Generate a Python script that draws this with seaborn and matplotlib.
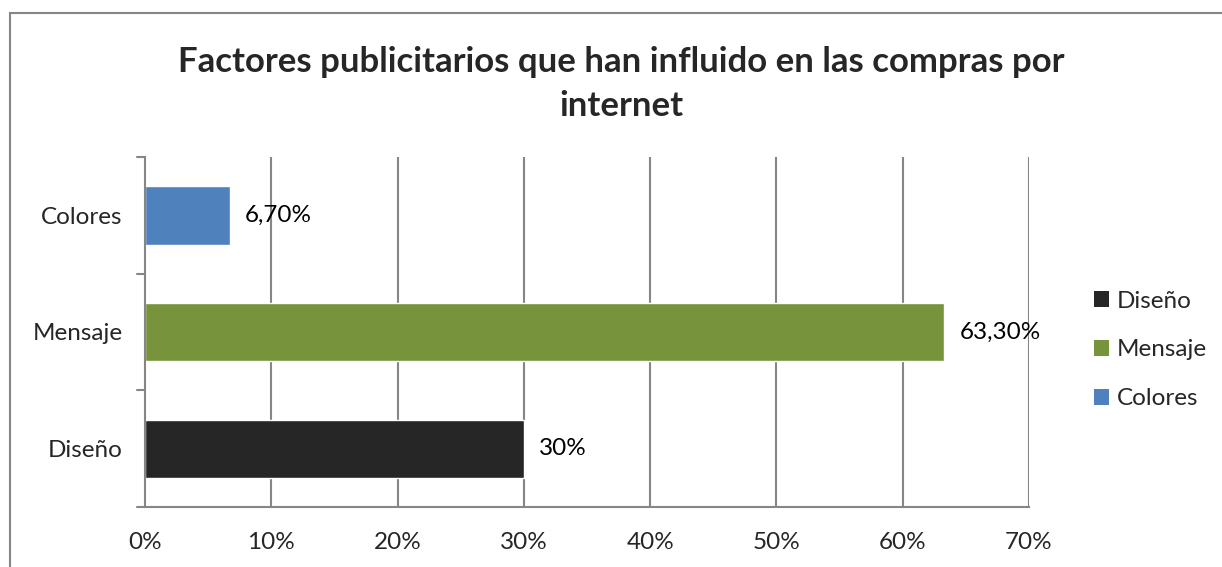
import matplotlib
matplotlib.use("Agg")
import matplotlib.pyplot as plt
import seaborn as sns
import pandas as pd
from matplotlib.patches import Rectangle, Patch

categories = ["Colores", "Mensaje", "Diseño"]
values = [6.7, 63.3, 30.0]
labels = ["6,70%", "63,30%", "30%"]
colors = ["#4F81BD", "#77933C", "#262626"]
xticks = [0, 10, 20, 30, 40, 50, 60, 70]
xtick_labels = ["0%", "10%", "20%", "30%", "40%", "50%", "60%", "70%"]
legend_order = ["Diseño", "Mensaje", "Colores"]

sns.set_theme(style="white")
plt.rcParams['font.family'] = ['Lato', 'DejaVu Sans']

df = pd.DataFrame({"cat": categories, "val": values})
W, H = 1222, 567
fig = plt.figure(figsize=(W/100, H/100), dpi=100)
ax = fig.add_axes([145/W, 1-507/H, (1029-145)/W, (507-157)/H])

pal = dict(zip(categories, colors))
sns.barplot(data=df, x="val", y="cat", hue="cat", order=categories, palette=pal,
            width=0.5, legend=False, ax=ax, saturation=1)

grid_c = "#868686"
fs = 17.5
ax.set_xlim(0, 70)
ax.set_ylim(2.5, -0.5)
ax.set_xticks(xticks)
ax.set_xticklabels(xtick_labels, fontsize=fs)
for x in xticks[1:]:
    ax.axvline(x, color=grid_c, lw=1.5, zorder=0)
ax.set_yticks([0, 1, 2])
ax.set_yticklabels(categories, fontsize=fs)
ax.tick_params(axis='y', length=0, pad=16)
ax.tick_params(axis='x', length=8, width=1.5, color=grid_c, direction='out', pad=10)
for b in [-0.5, 0.5, 1.5, 2.5]:
    ax.plot([-0.009*70, 0], [b, b], color=grid_c, lw=1.5, clip_on=False)
for s in ["top", "right"]:
    ax.spines[s].set_visible(False)
for s in ["left", "bottom"]:
    ax.spines[s].set_color(grid_c)
    ax.spines[s].set_linewidth(1.5)
ax.set_xlabel("")
ax.set_ylabel("")

for i, (v, lab) in enumerate(zip(values, labels)):
    ax.text(v + 1.2, i, lab, va='center', ha='left', fontsize=fs, color="#000000")

fig.text(621/W, 1-84/H, "Factores publicitarios que han influido en las compras por\ninternet",
         ha='center', va='center', fontsize=25, fontweight='bold', linespacing=1.45)

handles = [Patch(facecolor=pal[c], edgecolor='none') for c in legend_order]
fig.legend(handles, legend_order, loc='center left', bbox_to_anchor=(1094/W, 1-350/H),
           frameon=False, fontsize=fs, handlelength=0.6, handleheight=0.6,
           handletextpad=0.35, labelspacing=1.15, borderaxespad=0, borderpad=0)

fig.patches.append(Rectangle((10/W, -0.1), 1.2, 1.1 - 13/H, transform=fig.transFigure,
                             fill=False, edgecolor=grid_c, lw=1.5))

fig.savefig("out.png", dpi=100)
